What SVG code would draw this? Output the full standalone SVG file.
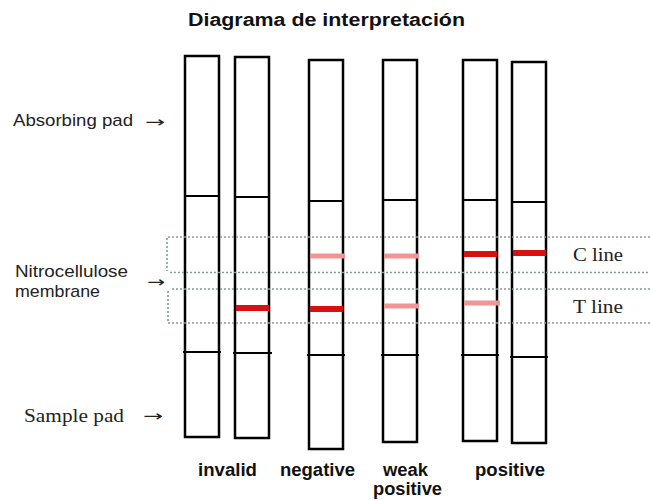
<svg xmlns="http://www.w3.org/2000/svg" width="650" height="500" viewBox="0 0 650 500">
<style>
.strip{fill:#fff;stroke:#000;stroke-width:2.5}
.div{stroke:#000;stroke-width:2}
.red{stroke:#d81010;stroke-width:6}
.pink{stroke:#f09494;stroke-width:5}
.dot{fill:none;stroke:#8a9999;stroke-width:1.6;stroke-dasharray:2 2}
.sans{font-family:"Liberation Sans",Arial,sans-serif;font-size:17px;fill:#222}
.serif{font-family:"Liberation Serif","Times New Roman",serif;font-size:18px;fill:#222}
.bold{font-family:"Liberation Sans",Arial,sans-serif;font-size:18px;font-weight:bold;fill:#111}
.arr{font-family:"DejaVu Sans",sans-serif;font-size:15px;fill:#222}
</style>
<rect width="650" height="500" fill="#fff"/>
<text class="bold" x="188" y="26" font-size="20" textLength="277" lengthAdjust="spacingAndGlyphs">Diagrama de interpretación</text>

<g id="strip-invalid-1">
<rect class="strip" x="185" y="56" width="34" height="381"/>
<line class="div" x1="184" y1="196" x2="220" y2="196"/>
<line class="div" x1="183" y1="352" x2="221" y2="352"/>
</g>
<g id="strip-invalid-2">
<rect class="strip" x="235" y="57" width="34" height="381"/>
<line class="div" x1="234" y1="197" x2="270" y2="197"/>
<line class="div" x1="233" y1="353" x2="272" y2="353"/>
<line class="red" x1="236" y1="308" x2="269" y2="308"/>
</g>
<g id="strip-negative">
<rect class="strip" x="309" y="60" width="34" height="389"/>
<line class="div" x1="308" y1="201" x2="344" y2="201"/>
<line class="div" x1="307" y1="355" x2="345" y2="355"/>
<line class="pink" x1="310" y1="256" x2="345" y2="256"/>
<line class="red" x1="310" y1="309" x2="343" y2="309"/>
</g>
<g id="strip-weak">
<rect class="strip" x="383" y="60" width="34" height="382"/>
<line class="div" x1="382" y1="200" x2="418" y2="200"/>
<line class="div" x1="381" y1="355" x2="419" y2="355"/>
<line class="pink" x1="384" y1="256" x2="419" y2="256"/>
<line class="pink" x1="384" y1="306" x2="419" y2="306"/>
</g>
<g id="strip-positive-1">
<rect class="strip" x="463" y="60" width="34" height="381"/>
<line class="div" x1="462" y1="200" x2="498" y2="200"/>
<line class="div" x1="461" y1="355" x2="499" y2="355"/>
<line class="red" x1="464" y1="254" x2="497" y2="254"/>
<line class="pink" x1="464" y1="303" x2="500" y2="303"/>
</g>
<g id="strip-positive-2">
<rect class="strip" x="512" y="62" width="34" height="381"/>
<line class="div" x1="511" y1="202" x2="547" y2="202"/>
<line class="div" x1="510" y1="357" x2="548" y2="357"/>
<line class="red" x1="513" y1="253" x2="546" y2="253"/>
</g>

<g id="zones">
<path class="dot" d="M650,237 H167 V271 M170,272.5 H650"/>
<path class="dot" d="M650,289 H170 M168,291 V323 H650"/>
</g>

<g id="labels">
<text class="sans" x="13" y="126" textLength="120" lengthAdjust="spacingAndGlyphs">Absorbing pad</text>
<text class="sans" x="15" y="277" textLength="113" lengthAdjust="spacingAndGlyphs">Nitrocellulose</text>
<text class="sans" x="15" y="297" textLength="85" lengthAdjust="spacingAndGlyphs">membrane</text>
<text class="serif" x="24" y="422" textLength="100" lengthAdjust="spacingAndGlyphs">Sample pad</text>
<text class="serif" x="573" y="261" textLength="50" lengthAdjust="spacingAndGlyphs">C line</text>
<text class="serif" x="573" y="313" textLength="50" lengthAdjust="spacingAndGlyphs">T line</text>
<text class="bold" x="198" y="476" textLength="59" lengthAdjust="spacingAndGlyphs">invalid</text>
<text class="bold" x="280" y="476" textLength="75" lengthAdjust="spacingAndGlyphs">negative</text>
<text class="bold" x="383" y="476" textLength="45" lengthAdjust="spacingAndGlyphs">weak</text>
<text class="bold" x="373" y="495" textLength="69" lengthAdjust="spacingAndGlyphs">positive</text>
<text class="bold" x="475" y="476" textLength="70" lengthAdjust="spacingAndGlyphs">positive</text>
</g>

<g id="connectors">
<text class="arr" x="145" y="127" textLength="20" lengthAdjust="spacingAndGlyphs">→</text>
<text class="arr" x="147" y="287" textLength="18" lengthAdjust="spacingAndGlyphs">→</text>
<text class="arr" x="143" y="421" textLength="20" lengthAdjust="spacingAndGlyphs">→</text>
</g>
</svg>
